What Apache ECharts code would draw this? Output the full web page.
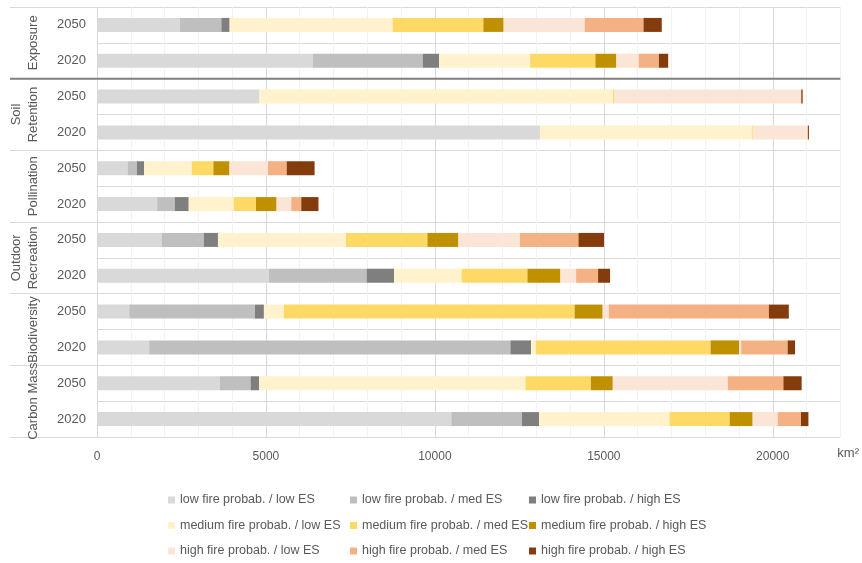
<!DOCTYPE html>
<html>
<head>
<meta charset="utf-8">
<script src="https://cdn.jsdelivr.net/npm/echarts@6/dist/echarts.min.js"></script>
<style>
  html, body { margin: 0; padding: 0; background: #fff; }
  #chart { width: 862px; height: 563px; }
</style>
</head>
<body>
<div id="chart"></div>
<script>
// rows, top to bottom
var groups = ['Exposure', 'Soil\nRetention', 'Pollination', 'Outdoor\nRecreation', 'Biodiversity', 'Carbon Mass'];
var rows = ['Exposure|2050', 'Exposure|2020', 'Soil|2050', 'Soil|2020', 'Pollination|2050', 'Pollination|2020',
            'Recreation|2050', 'Recreation|2020', 'Biodiversity|2050', 'Biodiversity|2020', 'Carbon|2050', 'Carbon|2020'];

var names = ['low fire probab. / low ES', 'low fire probab. / med ES', 'low fire probab. / high ES',
             'medium fire probab. / low ES', 'medium fire probab. / med ES', 'medium fire probab. / high ES',
             'high fire probab. / low ES', 'high fire probab. / med ES', 'high fire probab. / high ES'];
var colors = ['#D9D9D9', '#BFBFBF', '#7F7F7F', '#FFF2CC', '#FFD966', '#BF9000', '#FBE5D6', '#F4B183', '#843C0C'];

// km2 per row (same order as rows)
var lowLow   = [2450, 6390, 4810, 13110, 905, 1780, 1910, 5080, 955, 1545, 3630, 10485];
var lowMed   = [1230, 3250, 0, 0, 275, 520, 1250, 2900, 3720, 10690, 915, 2090];
var lowHigh  = [245, 485, 0, 0, 215, 415, 420, 810, 265, 610, 255, 510];
var medLow   = [4825, 2695, 10460, 6270, 1410, 1330, 3790, 2000, 590, 145, 7885, 3860];
var medMed   = [2685, 1930, 30, 30, 640, 660, 2410, 1950, 8605, 5170, 1930, 1780];
var medHigh  = [600, 620, 0, 0, 475, 610, 915, 975, 830, 845, 650, 680];
var highLow  = [2400, 660, 5535, 1620, 1140, 435, 1820, 465, 185, 60, 3405, 740];
var highMed  = [1740, 600, 10, 10, 555, 295, 1735, 650, 4735, 1375, 1645, 690];
var highHigh = [540, 275, 40, 30, 825, 510, 755, 355, 590, 220, 540, 220];
var values = [lowLow, lowMed, lowHigh, medLow, medMed, medHigh, highLow, highMed, highHigh];

var xTicks = [0, 5000, 10000, 15000, 20000];

var txt = '#595959';
var font = 'Liberation Sans';

var myChart = echarts.init(document.getElementById('chart'));

var series = [];
for (var i = 0; i < names.length; i++) {
  series.push({
    name: names[i],
    type: 'bar',
    stack: 'total',
    barWidth: 14,
    itemStyle: { color: colors[i] },
    data: values[i]
  });
}

function legendCol(left, idx) {
  return {
    orient: 'vertical',
    left: left,
    top: 493,
    padding: 0,
    itemWidth: 7,
    itemHeight: 7,
    itemGap: 11.5,
    icon: 'rect',
    textStyle: { color: txt, fontSize: 12.5, fontFamily: font, lineHeight: 14, padding: [0, 0, 0, 0] },
    data: idx.map(function (k) { return names[k]; })
  };
}

var option = {
  animation: false,
  color: colors,
  grid: { left: 97, right: 20, top: 7, bottom: 126 },
  legend: [legendCol(168, [0, 3, 6]), legendCol(350, [1, 4, 7]), legendCol(529, [2, 5, 8])],
  xAxis: {
    type: 'value',
    min: 0,
    max: 22000,
    interval: 1000,
    name: 'km\u00b2',
    nameLocation: 'end',
    nameGap: -3,
    nameTextStyle: { color: txt, fontSize: 13, fontFamily: font, verticalAlign: 'top', padding: [10, 0, 0, 0] },
    axisLine: { show: false },
    axisTick: { show: false },
    axisLabel: {
      color: txt, fontSize: 12, fontFamily: font, margin: 14,
      showMaxLabel: false,
      formatter: function (v) { return xTicks.indexOf(v) >= 0 ? String(v) : ''; }
    },
    splitLine: { lineStyle: { color: ['#D9D9D9', '#F2F2F2', '#F2F2F2', '#F2F2F2', '#F2F2F2'], width: 1 } }
  },
  yAxis: [{
    type: 'category',
    inverse: true,
    data: rows,
    axisLine: { show: false },
    axisTick: { show: false },
    axisLabel: {
      interval: 0,
      color: txt, fontSize: 13, fontFamily: font, margin: 11,
      formatter: function (v) { return v.split('|')[1]; }
    },
    splitLine: { show: true, lineStyle: { color: '#D9D9D9' } }
  }, {
    type: 'category',
    inverse: true,
    position: 'left',
    data: groups,
    axisLine: { show: false },
    axisTick: { show: true, interval: 0, length: 87, lineStyle: { color: '#D9D9D9' } },
    axisLabel: { interval: 0, color: txt, fontSize: 13, fontFamily: font, rotate: 90, margin: 55, lineHeight: 17 },
    splitLine: { show: false }
  }],
  series: series
};
myChart.setOption(option);

// darker separator between the first two groups
var y1 = myChart.convertToPixel({ yAxisIndex: 0 }, rows[1]);
var y2 = myChart.convertToPixel({ yAxisIndex: 0 }, rows[2]);
var xr = myChart.convertToPixel({ xAxisIndex: 0 }, 22000);
myChart.setOption({
  graphic: [{
    type: 'line',
    shape: { x1: 10, y1: (y1 + y2) / 2, x2: xr, y2: (y1 + y2) / 2 },
    style: { stroke: '#7F7F7F', lineWidth: 2 },
    z: 10
  }]
});
</script>
</body>
</html>
